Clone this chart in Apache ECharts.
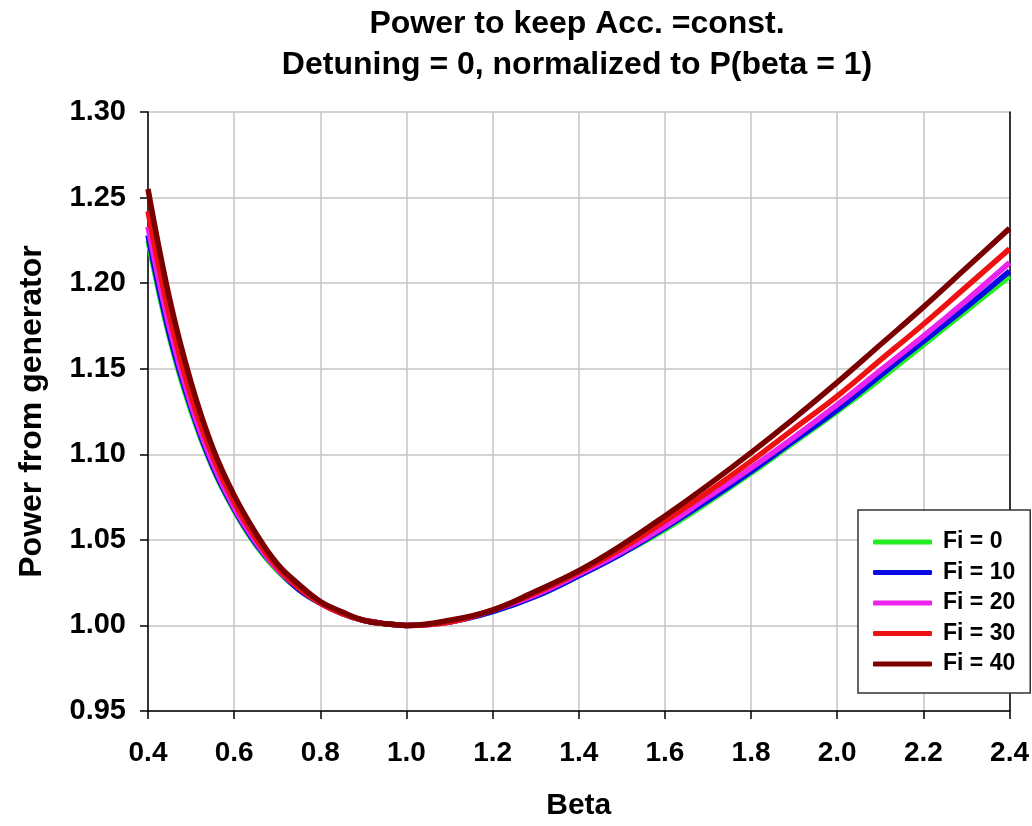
<!DOCTYPE html>
<html>
<head>
<meta charset="utf-8">
<script src="https://cdn.jsdelivr.net/npm/echarts@6/dist/echarts.min.js"></script>
<style>
  html, body { margin: 0; padding: 0; background: #fff; }
  #chart { width: 1032px; height: 826px; }
</style>
</head>
<body>
<div id="chart"></div>
<script>
// === Data
const BETA = [0.4, 0.45, 0.5, 0.55, 0.6, 0.65, 0.7, 0.75, 0.8, 0.85, 0.9, 0.95, 1.0,
              1.1, 1.2, 1.3, 1.4, 1.5, 1.6, 1.7, 1.8, 1.9, 2.0, 2.1, 2.2, 2.3, 2.4];

const FI_0  = [1.225, 1.168, 1.125, 1.092, 1.067, 1.047, 1.032, 1.021, 1.013, 1.007, 1.003, 1.001, 1.000,
               1.002, 1.008, 1.017, 1.029, 1.042, 1.056, 1.072, 1.089, 1.107, 1.125, 1.144, 1.164, 1.184, 1.204];
const FI_10 = [1.228, 1.170, 1.127, 1.093, 1.068, 1.048, 1.033, 1.021, 1.013, 1.007, 1.003, 1.001, 1.000,
               1.002, 1.008, 1.017, 1.029, 1.042, 1.057, 1.073, 1.090, 1.108, 1.126, 1.146, 1.166, 1.186, 1.207];
const FI_20 = [1.233, 1.174, 1.129, 1.095, 1.069, 1.049, 1.033, 1.022, 1.013, 1.007, 1.003, 1.001, 1.000,
               1.002, 1.009, 1.018, 1.030, 1.043, 1.058, 1.075, 1.092, 1.110, 1.129, 1.149, 1.169, 1.190, 1.212];
const FI_30 = [1.242, 1.181, 1.134, 1.099, 1.072, 1.051, 1.034, 1.022, 1.013, 1.007, 1.003, 1.001, 1.000,
               1.002, 1.009, 1.019, 1.031, 1.045, 1.061, 1.078, 1.096, 1.115, 1.134, 1.155, 1.176, 1.198, 1.220];
const FI_40 = [1.255, 1.191, 1.142, 1.104, 1.076, 1.054, 1.036, 1.024, 1.014, 1.008, 1.003, 1.001, 1.000,
               1.003, 1.009, 1.020, 1.032, 1.047, 1.064, 1.082, 1.101, 1.121, 1.142, 1.164, 1.186, 1.209, 1.232];

const SERIES_NAMES = ['Fi = 0', 'Fi = 10', 'Fi = 20', 'Fi = 30', 'Fi = 40'];
const SERIES_VALUES = [FI_0, FI_10, FI_20, FI_30, FI_40];
const SERIES_COLORS = ['#22ee22', '#0a0ae6', '#ee22ee', '#ee1111', '#7a0000'];

const FONT = "'Liberation Sans', Arial, sans-serif";

// === Helpers
function toPairs(values) {
    return BETA.map((b, i) => [b, values[i]]);
}

function makeSeries(name, values, color) {
    return {
        name: name,
        type: 'line',
        smooth: 0.4,
        showSymbol: false,
        data: toPairs(values),
        itemStyle: { color: color },
        lineStyle: { color: color, width: 5.5 }
    };
}

function axisText(size) {
    return {
        fontFamily: FONT,
        fontSize: size,
        fontWeight: 'bold',
        color: '#000'
    };
}

const chart = echarts.init(document.getElementById('chart'));

chart.setOption({
    animation: false,
    backgroundColor: '#fff',
    title: {
        text: 'Power to keep Acc. =const.\nDetuning = 0, normalized to P(beta = 1)',
        left: 572,
        textAlign: 'center',
        top: -1,
        textStyle: {
            fontFamily: FONT,
            fontSize: 32,
            fontWeight: 'bold',
            color: '#000',
            lineHeight: 41
        }
    },
    grid: {
        left: 148,
        right: 20,
        top: 112,
        bottom: 112
    },
    legend: {
        orient: 'vertical',
        left: 858,
        top: 510,
        padding: [20, 15, 17, 15],
        itemWidth: 59,
        itemHeight: 5,
        itemGap: 6.5,
        icon: 'roundRect',
        backgroundColor: '#fff',
        borderColor: '#333',
        borderWidth: 1.5,
        borderRadius: 0,
        data: SERIES_NAMES,
        textStyle: {
            fontFamily: FONT,
            fontSize: 23,
            fontWeight: 'bold',
            color: '#000',
            lineHeight: 24,
            padding: [0, 0, 0, 6]
        }
    },
    xAxis: {
        type: 'value',
        min: 0.4,
        max: 2.4,
        interval: 0.2,
        name: 'Beta',
        nameLocation: 'middle',
        nameGap: 80,
        nameTextStyle: axisText(30),
        axisLine: { lineStyle: { color: '#000', width: 1.5 } },
        axisTick: { show: true, inside: false, length: 8, lineStyle: { color: '#000', width: 1.5 } },
        axisLabel: Object.assign({ margin: 28, formatter: v => v.toFixed(1) }, axisText(28)),
        splitLine: { show: true, lineStyle: { color: '#c4c4c4', width: 1.5 } }
    },
    yAxis: [
        {
            type: 'value',
            min: 0.95,
            max: 1.30,
            interval: 0.05,
            name: 'Power from generator',
            nameLocation: 'middle',
            nameGap: 100,
            nameTextStyle: axisText(32),
            axisLine: { show: true, lineStyle: { color: '#000', width: 1.5 } },
            axisTick: { show: true, inside: false, length: 8, lineStyle: { color: '#000', width: 1.5 } },
            axisLabel: Object.assign({ margin: 22, formatter: v => v.toFixed(2) }, axisText(29)),
            splitLine: { show: true, lineStyle: { color: '#c4c4c4', width: 1.5 } }
        },
        {
            // right-hand frame line
            type: 'value',
            position: 'right',
            min: 0.95,
            max: 1.30,
            interval: 0.05,
            axisLine: { show: true, lineStyle: { color: '#000', width: 1.5 } },
            axisTick: { show: false },
            axisLabel: { show: false },
            splitLine: { show: false }
        }
    ],
    series: SERIES_NAMES.map((n, i) => makeSeries(n, SERIES_VALUES[i], SERIES_COLORS[i]))
});
</script>
</body>
</html>
